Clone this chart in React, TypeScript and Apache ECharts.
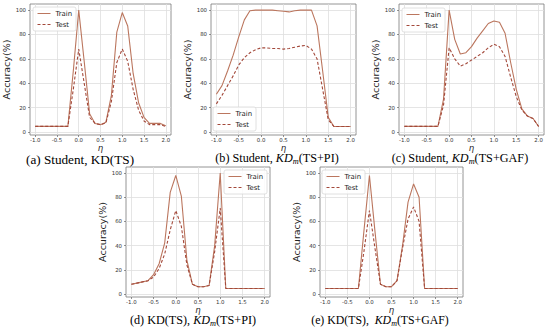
import React, { useEffect, useRef } from "react";
import * as echarts from "echarts";

const eta = [-1, -0.875, -0.75, -0.625, -0.5, -0.375, -0.25, -0.125, 0, 0.125, 0.25, 0.375, 0.5, 0.625, 0.75, 0.875, 1, 1.125, 1.25, 1.375, 1.5, 1.625, 1.75, 1.875, 2];

const trainA = [4.6, 4.6, 4.6, 4.6, 4.6, 4.6, 4.6, 50, 100, 58, 15, 7, 6, 8, 30, 82, 98, 87, 48, 24, 12, 7, 7, 7, 5];
const testA = [4.6, 4.6, 4.6, 4.6, 4.6, 4.6, 4.6, 35, 68, 40, 12, 7, 6, 7.5, 25, 57, 68, 58, 35, 18, 9, 6, 6, 6, 4.5];

const trainB = [31, 38, 50, 63, 78, 92, 99.5, 100, 100, 100, 100, 99.5, 99, 98.5, 99.5, 100, 100, 100, 87, 50, 12, 4.5, 4.5, 4.5, 4.5];
const testB = [23, 30, 38, 46, 55, 61, 65, 67.5, 69, 69, 68.5, 68.5, 68, 68.5, 69.5, 70.5, 71, 68, 60, 35, 10, 4.5, 4.5, 4.5, 4.5];

const trainC = [4.6, 4.6, 4.6, 4.6, 4.6, 4.6, 4.6, 27, 100, 76, 64, 65, 70, 77, 83, 89, 91, 90, 81, 57, 35, 19, 13, 11, 4.5];
const testC = [4.6, 4.6, 4.6, 4.6, 4.6, 4.6, 4.6, 22, 69, 60, 54, 56, 59, 62, 65, 69, 72, 70, 62, 45, 29, 18, 13, 11, 4.5];

const trainD = [8, 9, 10, 11, 16, 25, 42, 84, 98, 81, 28, 8, 6, 6, 7, 40, 100, 4.5, 4.5, 4.5, 4.5, 4.5, 4.5, 4.5, 4.5];
const testD = [8, 9, 10, 11, 14, 21, 33, 53, 69, 56, 24, 8, 6, 6, 7, 35, 71, 4.5, 4.5, 4.5, 4.5, 4.5, 4.5, 4.5, 4.5];

const trainE = [4.5, 4.5, 4.5, 4.5, 4.5, 4.5, 4.5, 52, 98, 52, 8, 6, 6, 11, 40, 76, 91, 80, 4.5, 4.5, 4.5, 4.5, 4.5, 4.5, 4.5];
const testE = [4.5, 4.5, 4.5, 4.5, 4.5, 4.5, 4.5, 35, 69, 38, 8, 6, 6, 11, 38, 62, 72, 60, 4.5, 4.5, 4.5, 4.5, 4.5, 4.5, 4.5];

const xTicks = [-1, -0.5, 0, 0.5, 1, 1.5, 2];
const yTicks = [0, 20, 40, 60, 80, 100];
const seriesNames = ["Train", "Test"];
const xName = "η";
const yName = "Accuracy(%)";

const captions = [
  ["(a) Student, KD(TS)", "", ""],
  ["(b) Student, ", "KD", "(TS+PI)"],
  ["(c) Student, ", "KD", "(TS+GAF)"],
  ["(d) KD(TS), ", "KD", "(TS+PI)"],
  ["(e) KD(TS),  ", "KD", "(TS+GAF)"],
];

const panelData = [
  [trainA, testA],
  [trainB, testB],
  [trainC, testC],
  [trainD, testD],
  [trainE, testE],
];

// layout (pixels)
const grids = [
  { left: 30, top: 4, width: 141, height: 131 },
  { left: 211, top: 4, width: 145, height: 131 },
  { left: 399, top: 4, width: 145, height: 131 },
  { left: 126, top: 167, width: 144, height: 130 },
  { left: 320, top: 167, width: 143, height: 130 },
];
const legendPos = [
  { left: 33, top: 7 },
  { left: 213, top: 107 },
  { left: 402, top: 8 },
  { left: 224, top: 170 },
  { left: 322, top: 170 },
];
const captionPos = [
  { x: 80, y: 159, size: 13.2 },
  { x: 277, y: 158, size: 12.2 },
  { x: 460, y: 158, size: 12.2 },
  { x: 193, y: 320, size: 12.2 },
  { x: 380, y: 320, size: 11.8 },
];

const TRAIN_COLOR = "#bb765e";
const TEST_COLOR = "#a3483a";

export default function App() {
  const ref = useRef<HTMLDivElement>(null);
  useEffect(() => {
    document.body.style.margin = "0";
    const chart = echarts.init(ref.current!, undefined, { renderer: "svg" });
    const tickFont = "DejaVu Sans";
    const fmt = (v: number) => v.toFixed(1);

    const grid = grids.map((g) => ({
      ...g,
      show: true,
      borderColor: "#7a7a7a",
      borderWidth: 0.8,
      backgroundColor: "transparent",
      containLabel: false,
    }));

    const xAxis = grids.map((_, i) => ({
      type: "value",
      gridIndex: i,
      min: -1.12,
      max: 2.12,
      name: xName,
      nameLocation: "middle",
      nameGap: 8,
      nameTextStyle: { fontSize: 8.5, fontFamily: tickFont, fontStyle: "italic", color: "#222" },
      axisLine: { show: false, onZero: false },
      axisTick: { show: true, length: 2, customValues: xTicks, lineStyle: { color: "#666", width: 0.7 } },
      axisLabel: { customValues: xTicks, formatter: fmt, fontSize: 5.4, color: "#333", margin: 2, fontFamily: tickFont },
      splitLine: { show: true, lineStyle: { color: "#dedede", width: 0.8 } },
    }));

    const yAxis = grids.map((_, i) => ({
      type: "value",
      gridIndex: i,
      min: -2.5,
      max: 105,
      name: yName,
      nameLocation: "middle",
      nameGap: 14,
      nameRotate: 90,
      nameTextStyle: { fontSize: 9.5, fontFamily: tickFont, color: "#222" },
      axisLine: { show: false, onZero: false },
      axisTick: { show: true, length: 2, customValues: yTicks, lineStyle: { color: "#666", width: 0.7 } },
      axisLabel: { customValues: yTicks, fontSize: 5.4, color: "#333", margin: 4, fontFamily: tickFont },
      splitLine: { show: true, lineStyle: { color: "#dedede", width: 0.8 } },
    }));

    const series: any[] = [];
    panelData.forEach(([tr, te], i) => {
      series.push({
        type: "line",
        name: seriesNames[0],
        xAxisIndex: i,
        yAxisIndex: i,
        symbol: "none",
        data: eta.map((x, k) => [x, tr[k]]),
        lineStyle: { color: TRAIN_COLOR, width: 1.1 },
        itemStyle: { color: TRAIN_COLOR },
      });
      series.push({
        type: "line",
        name: seriesNames[1],
        xAxisIndex: i,
        yAxisIndex: i,
        symbol: "none",
        data: eta.map((x, k) => [x, te[k]]),
        lineStyle: { color: TEST_COLOR, width: 1.1, type: [3, 2] },
        itemStyle: { color: TEST_COLOR },
      });
    });

    const legend = legendPos.map((p) => ({
      ...p,
      data: seriesNames,
      orient: "vertical",
      itemWidth: 13,
      itemHeight: 6,
      itemGap: 4,
      padding: [3, 4, 3, 4],
      textStyle: { fontSize: 6.9, color: "#222", fontFamily: tickFont },
      itemStyle: { opacity: 0 },
      lineStyle: { width: 1 },
      borderColor: "#d8d8d8",
      borderWidth: 0.8,
      borderRadius: 2,
      backgroundColor: "rgba(255,255,255,0.85)",
      selectedMode: false,
    }));

    const serif = "Liberation Serif";
    const kdColor = "#1f4c55";
    const graphic = captions.map(([a, b, c], i) => {
      const fs = captionPos[i].size;
      return {
        type: "text",
        x: captionPos[i].x,
        y: captionPos[i].y,
        style: {
          text: b ? `{n|${a}}{i|${b}}{s|m}{n|${c}}` : `{n|${a}}`,
          align: "center",
          verticalAlign: "middle",
          rich: {
            n: { fontFamily: serif, fontSize: fs, color: "#111", lineHeight: 13 },
            i: { fontFamily: serif, fontSize: fs, fontStyle: "italic", color: kdColor, lineHeight: 13 },
            s: { fontFamily: serif, fontSize: fs * 0.68, fontStyle: "italic", color: kdColor, lineHeight: 8, padding: [7, 0, 0, 0] },
          },
        },
      };
    });

    chart.setOption({
      animation: false,
      backgroundColor: "#fff",
      grid,
      xAxis,
      yAxis,
      series,
      legend,
      graphic,
    });
    return () => chart.dispose();
  }, []);
  return <div ref={ref} style={{ width: 550, height: 330 }} />;
}
